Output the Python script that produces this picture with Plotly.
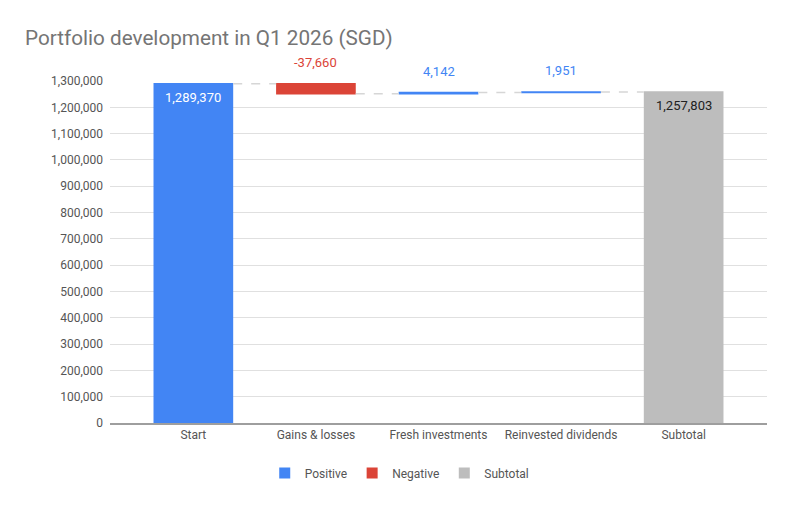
import plotly.graph_objects as go

categories = ['Start', 'Gains & losses', 'Fresh investments', 'Reinvested dividends', 'Subtotal']
values = [1289370, -37660, 4142, 1951, 1257803]
measures = ['relative', 'relative', 'relative', 'relative', 'total']
labels = ['1,289,370', '-37,660', '4,142', '1,951', '1,257,803']
label_inside = [True, False, False, False, True]
label_colors = ['#ffffff', '#db4437', '#4285f4', '#4285f4', '#212121']

BLUE = '#4285f4'
RED = '#db4437'
GREY = '#bdbdbd'

fig = go.Figure()

fig.add_trace(go.Waterfall(
    x=categories, y=values, measure=measures, textposition='none',
    increasing=dict(marker=dict(color=BLUE)),
    decreasing=dict(marker=dict(color=RED)),
    totals=dict(marker=dict(color=GREY)),
    connector=dict(mode='between', line=dict(color='#d6d6d6', width=1.5, dash='dash')),
    width=0.65, cliponaxis=False, showlegend=False, hoverinfo='skip'
))

# value labels: inside the top of the big bars, above the floating ones (also for the negative)
running = 0
for cat, val, meas, txt, ins, col in zip(categories, values, measures, labels, label_inside, label_colors):
    start = 0 if meas == 'total' else running
    end = val if meas == 'total' else running + val
    running = end
    top = max(start, end)
    if ins:
        fig.add_annotation(x=cat, y=top, text=txt, showarrow=False,
                           yanchor='top', yshift=-4, font=dict(color=col, size=13))
    else:
        fig.add_annotation(x=cat, y=top, text=txt, showarrow=False,
                           yanchor='bottom', yshift=12, font=dict(color=col, size=13))

# legend-only entries
for name, col in [('Positive', BLUE), ('Negative', RED), ('Subtotal', GREY)]:
    fig.add_trace(go.Scatter(x=[None], y=[None], mode='markers', name=name,
                             marker=dict(symbol='square', size=11, color=col)))

fig.update_layout(
    width=799, height=508,
    paper_bgcolor='white', plot_bgcolor='white',
    font=dict(family='Roboto, Arial, sans-serif', color='#555555', size=12),
    title=dict(text='Portfolio development in Q1 2026 (SGD)', x=25 / 799, xanchor='left',
               y=1 - 38 / 508, yanchor='middle', yref='container',
               font=dict(size=20.7, color='#757575')),
    margin=dict(l=110, r=32, t=81, b=85),
    showlegend=True,
    legend=dict(orientation='h', x=0.441, xanchor='center', y=-0.146, yanchor='middle',
                font=dict(size=12, color='#555555'), itemclick=False, itemwidth=30),
)
fig.update_xaxes(range=[-0.68, 4.68], showgrid=False, showline=True,
                 linecolor='#9e9e9e', linewidth=2, ticks='', tickfont=dict(size=12, color='#555555'))
fig.update_yaxes(range=[0, 1300000], dtick=100000, tickformat=',', gridcolor='#e0e0e0',
                 zeroline=False, showline=False, tickfont=dict(size=12, color='#555555'),
                 ticklabelstandoff=6)

fig.write_html('out.html', config={'displayModeBar': False},
               post_script="document.body.style.margin='0';")
